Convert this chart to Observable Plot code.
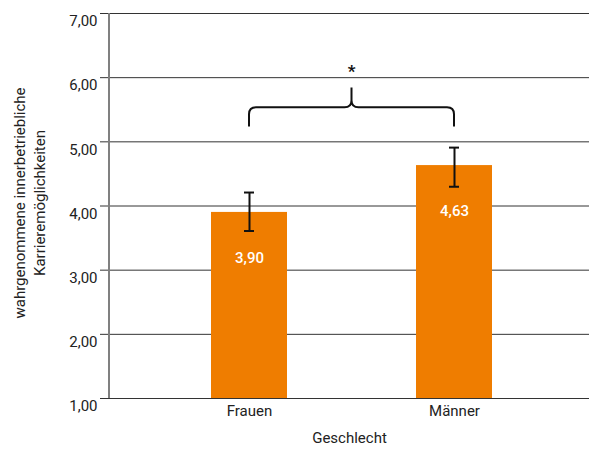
<!DOCTYPE html>
<html>
<head>
<meta charset="utf-8">
<script src="https://cdn.jsdelivr.net/npm/d3@7"></script>
<script src="https://cdn.jsdelivr.net/npm/@observablehq/plot@0.6"></script>
<style>
  html, body { margin: 0; padding: 0; background: #fff; }
</style>
</head>
<body>
<div id="chart"></div>
<script>
// Data
const groups = ["Frauen", "Männer"];
const means = [3.90, 4.63];
const errLow = [3.61, 4.30];
const errHigh = [4.21, 4.91];
const yTicks = [1, 2, 3, 4, 5, 6, 7];
const baseline = 1;
const yLabel = "wahrgenommene innerbetriebliche\nKarrieremöglichkeiten";
const xLabel = "Geschlecht";
const braceTip = 5.23, braceBar = 5.53, bracePeak = 5.84;
const starValue = 6.08;
const starText = "*";

const fmt = d => d.toFixed(2).replace(".", ",");
const data = groups.map((g, i) => ({g, v: means[i], lo: errLow[i], hi: errHigh[i], label: fmt(means[i])}));

const orange = "#ef7d00";

function braceMark(index, scales, values, dimensions, context) {
  const x = scales.x, y = scales.y;
  const bw = typeof x.bandwidth === "function" ? x.bandwidth() : (x.bandwidth || 0);
  const x1 = x(groups[0]) + bw / 2, x2 = x(groups[1]) + bw / 2, xm = (x1 + x2) / 2;
  const yt = y(braceTip), yb = y(braceBar), yp = y(bracePeak);
  const r = 7;
  const p = d3.path();
  p.moveTo(x1, yt);
  p.lineTo(x1, yb + r);
  p.quadraticCurveTo(x1, yb, x1 + r, yb);
  p.lineTo(xm - r, yb);
  p.quadraticCurveTo(xm, yb, xm, yb - r);
  p.lineTo(xm, yp);
  p.moveTo(xm, yb - r);
  p.quadraticCurveTo(xm, yb, xm + r, yb);
  p.lineTo(x2 - r, yb);
  p.quadraticCurveTo(x2, yb, x2, yb + r);
  p.lineTo(x2, yt);
  const g = d3.create("svg:g");
  g.append("path").attr("d", p.toString()).attr("fill", "none")
    .attr("stroke", "#111").attr("stroke-width", 2);
  g.append("text").attr("x", xm).attr("y", y(starValue)).attr("dy", "0.32em")
    .attr("text-anchor", "middle").attr("font-size", 17).attr("font-weight", "bold")
    .attr("fill", "#111").text(starText);
  return g.node();
}

function axisLineMark(index, scales, values, dimensions, context) {
  const y = scales.y;
  const g = d3.create("svg:g");
  g.append("line")
    .attr("x1", dimensions.marginLeft).attr("x2", dimensions.marginLeft)
    .attr("y1", y(yTicks[0])).attr("y2", y(yTicks[yTicks.length - 1]))
    .attr("stroke", "#808080").attr("stroke-width", 2);
  return g.node();
}

const chart = Plot.plot({
  width: 589,
  height: 450,
  marginLeft: 109,
  marginRight: 0,
  marginTop: 13,
  marginBottom: 52,
  style: {fontFamily: "Roboto, sans-serif", fontSize: "15px", color: "#222", background: "#fff"},
  x: {domain: groups, paddingInner: 0.63, paddingOuter: 0.485, align: 0.51, label: null},
  y: {domain: [1, 7], label: null},
  marks: [
    Plot.ruleY(yTicks, {stroke: "#333", strokeWidth: 1, insetLeft: -9}),
    Plot.axisY({ticks: yTicks, tickFormat: fmt, tickSize: 0, tickPadding: 12, dy: 8, label: null, fill: "#222"}),
    Plot.axisX({tickSize: 0, tickPadding: 7, label: null, fill: "#222"}),
    Plot.barY(data, {x: "g", y1: baseline, y2: "v", fill: orange}),
    Plot.ruleX(data, {x: "g", y1: "lo", y2: "hi", stroke: "#111", strokeWidth: 2}),
    Plot.tickY(data, {x: "g", y: "lo", stroke: "#111", strokeWidth: 2, inset: 33}),
    Plot.tickY(data, {x: "g", y: "hi", stroke: "#111", strokeWidth: 2, inset: 33}),
    Plot.text(data, {x: "g", y: "v", text: "label", dy: 46, fill: "white", fontSize: 15, fontWeight: 500}),
    axisLineMark,
    braceMark,
    Plot.text([yLabel], {frameAnchor: "left", textAnchor: "middle", lineAnchor: "middle", rotate: -90, dx: -81, dy: -3, lineHeight: 1.33, fontSize: 15, fill: "#222"}),
    Plot.text([xLabel], {frameAnchor: "bottom", dy: 44, fontSize: 15, fill: "#222"})
  ]
});
document.getElementById("chart").appendChild(chart);
</script>
</body>
</html>
